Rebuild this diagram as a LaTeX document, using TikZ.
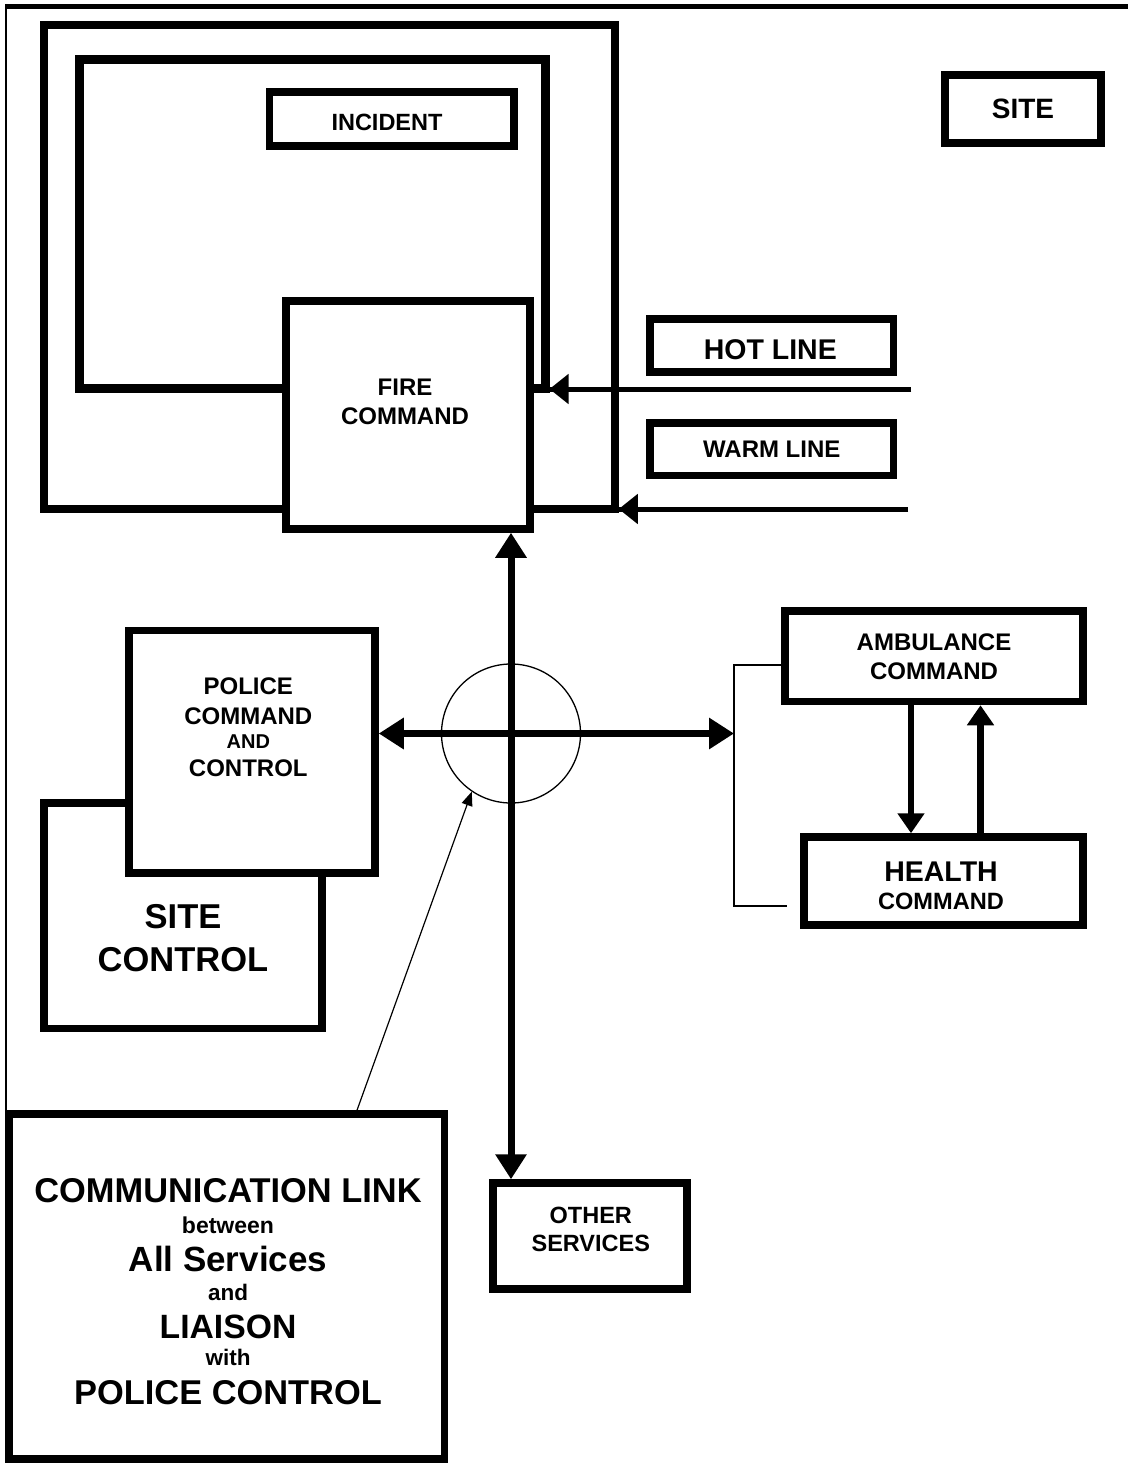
\documentclass[tikz,border=0pt]{standalone}
\usepackage{fontspec}
\setmainfont{Liberation Sans}
\usepackage{tikz}
\usetikzlibrary{arrows.meta, positioning}

\begin{document}
\begin{tikzpicture}[x=1pt, y=-1pt,
    box/.style={draw, fill=white, line width=7.5pt, inner sep=0pt, align=center},
    zone/.style={draw, line width=7.5pt, inner sep=0pt},
    txt/.style={font=\bfseries\fontsize{24}{29}\selectfont, align=center, inner sep=0pt},
    mainarrow/.style={line width=7pt, {Triangle[length=25pt,width=30pt]}-{Triangle[length=25pt,width=30pt]}},
    feed/.style={line width=5pt},
    feedtip/.style={-{Triangle[length=19pt,width=29pt]}},
    linkarrow/.style={line width=6.5pt, -{Triangle[length=20pt,width=26pt]}},
    thinline/.style={line width=1.8pt}]

    \useasboundingbox (0,0) rectangle (1128,1463);

    % =================================================================
    % FRAME
    % =================================================================
    \draw[line width=5pt] (6,6.5) -- (1128,6.5);
    \draw[line width=2pt] (6,4) -- (6,1463);

    % =================================================================
    % WARM ZONE, HOT ZONE, INCIDENT, FIRE COMMAND
    % =================================================================
    \node[zone, minimum width=571pt, minimum height=484pt] (warmzone) at (329.5,267) {};
    \node[zone, line width=9pt, minimum width=465.5pt, minimum height=328.5pt] (hotzone) at (312.25,223.75) {};
    \node[box, minimum width=244.5pt, minimum height=54pt] (incident) at (391.75,119) {};
    \node[txt, font=\bfseries\fontsize{23.5}{28}\selectfont] (incident-txt) at (387,122.5) {INCIDENT};
    \node[box, minimum width=244pt, minimum height=228pt] (fire) at (408,415) {};
    \node[txt] (fire-txt) at (405,401.4) {FIRE\\COMMAND};

    % hot line / warm line
    \node[box, minimum width=243.5pt, minimum height=53pt] (hotline) at (771.75,345.5) {};
    \node[txt, font=\bfseries\fontsize{28.5}{30}\selectfont] (hotline-txt) at (770.3,350) {HOT LINE};
    \node[box, txt, minimum width=243.5pt, minimum height=52.5pt] (warmline) at (771.75,449.25) {WARM LINE};
    \coordinate (hotEnd) at (911,389);
    \coordinate (warmEnd) at (908,509);
    \draw[feed] (hotEnd) -- (fire.east |- hotEnd);
    \draw[feed, feedtip] (hotEnd) -- (hotzone.east |- hotEnd);
    \draw[feed] (warmEnd) -- (fire.east |- warmEnd);
    \draw[feed, feedtip] (warmEnd) -- (warmzone.east |- warmEnd);

    % site
    \node[box, txt, font=\bfseries\fontsize{28}{30}\selectfont,
          minimum width=156pt, minimum height=68pt] (site) at (1023,109) {SITE};

    % =================================================================
    % SITE CONTROL, POLICE
    % =================================================================
    \node[box, minimum width=278pt, minimum height=225.5pt] (sitectrl) at (183,915.75) {};
    \node[txt, font=\bfseries\fontsize{34.5}{43}\selectfont] (sitectrl-txt) at (183,938.4) {SITE\\CONTROL};
    \node[box, minimum width=246pt, minimum height=242.5pt] (police) at (252,751.75) {};
    \node[txt] (police-txt) at (248.3,727.4)
        {POLICE\\[1pt]COMMAND\\[-5.6pt]{\fontsize{20}{29}\selectfont AND}\\[-0.4pt]CONTROL};

    % hub
    \node[draw, circle, line width=1.3pt, minimum size=139pt, inner sep=0pt] (hub) at (511,733.5) {};

    % =================================================================
    % AMBULANCE, HEALTH
    % =================================================================
    \node[box, txt, minimum width=298pt, minimum height=90.5pt] (ambulance) at (934,656.25) {AMBULANCE\\COMMAND};
    \node[box, minimum width=279pt, minimum height=88pt] (health) at (943.5,881) {};
    \node[txt, font=\bfseries\fontsize{23.6}{28}\selectfont] (health-txt) at (941,886)
        {{\fontsize{28.5}{28}\selectfont HEALTH}\\COMMAND};
    \coordinate (brTop) at (734,665);
    \coordinate (brBot) at (734,906);
    \coordinate (brEnd) at (787,906);
    \draw[thinline] (ambulance.west |- brTop) -- (brTop) -- (brBot) -- (brEnd);
    \draw[linkarrow] (ambulance.south -| 911,0) -- (health.north -| 911,0);
    \draw[linkarrow] (health.north -| 980.5,0) -- (ambulance.south -| 980.5,0);

    % other services
    \node[box, minimum width=194pt, minimum height=106pt] (other) at (590,1236) {};
    \node[txt, font=\bfseries\fontsize{23.5}{28.3}\selectfont] (other-txt) at (590.8,1229.2) {OTHER\\SERVICES};

    % main links
    \draw[mainarrow] (511,0 |- fire.south) -- (511,0 |- other.north);
    \draw[mainarrow] (police.east |- hub) -- (brTop |- hub);

    % =================================================================
    % COMMUNICATION LINK
    % =================================================================
    \node[box, minimum width=435.5pt, minimum height=345pt] (comm) at (226.75,1286.5) {};
    \node[txt, font=\bfseries\fontsize{34.4}{34}\selectfont] (comm-txt) at (228,1291.5)
        {COMMUNICATION LINK\\[-3.3pt]
         {\fontsize{23}{34}\selectfont between}\\[4pt]
         {\fontsize{35}{34}\selectfont All Services}\\[-5pt]
         {\fontsize{22.5}{34}\selectfont and}\\[4.7pt]
         {\fontsize{33.7}{34}\selectfont LIAISON}\\[-7.7pt]
         {\fontsize{22.5}{34}\selectfont with}\\[5pt]
         POLICE CONTROL};
    \draw[line width=1.2pt, -{Triangle[length=14pt,width=11pt]}] (357,0 |- comm.north) -- (hub.236);

\end{tikzpicture}
\end{document}
